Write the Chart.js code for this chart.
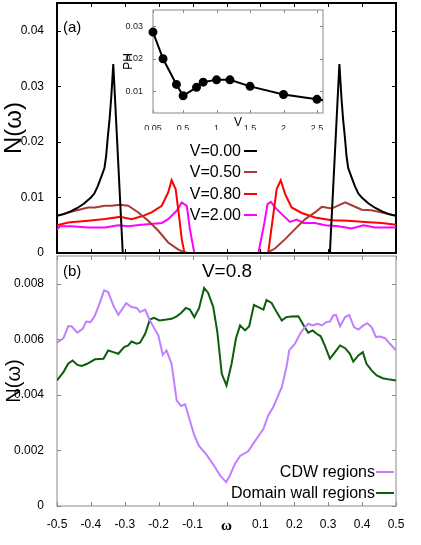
<!DOCTYPE html>
<html><head><meta charset="utf-8">
<script src="https://cdn.jsdelivr.net/npm/chart.js@4"></script>
<style>
html,body{margin:0;padding:0;background:#fff;}
#wrap{position:relative;width:421px;height:545px;overflow:hidden;font-family:"Liberation Sans",Arial,sans-serif;color:#000;}
canvas{position:absolute;}
.lbl{position:absolute;white-space:nowrap;line-height:1;}
.row{position:absolute;text-align:right;white-space:nowrap;line-height:1;}
.sw{position:absolute;height:2px;}
</style></head>
<body><div id="wrap">
<canvas id="ca" width="421" height="256" style="left:0;top:0;width:421px;height:256px"></canvas>
<canvas id="cb" width="421" height="295" style="left:0;top:250px;width:421px;height:295px"></canvas>
<canvas id="ci" width="220" height="135" style="left:121px;top:0;width:220px;height:135px"></canvas>
</div>
<script>
// ---------- Panel (a): N(omega) for several V ----------
const v000W = [-0.5,-0.48,-0.46,-0.44,-0.42,-0.40,-0.39,-0.38,-0.37,-0.36,-0.355,-0.35,-0.345,-0.34,-0.334,-0.306,
               0.305,0.333,0.339,0.344,0.349,0.354,0.359,0.369,0.379,0.389,0.399,0.419,0.439,0.459,0.479,0.5];
const v000N = [0.0067,0.0070,0.0075,0.0081,0.0089,0.0100,0.0107,0.0120,0.0136,0.0153,0.0175,0.0210,0.0240,0.0280,0.0340,0,
               0,0.0340,0.0280,0.0240,0.0210,0.0175,0.0153,0.0136,0.0120,0.0107,0.0100,0.0089,0.0081,0.0075,0.0070,0.0067];
const v050W = [-0.5,-0.447,-0.408,-0.388,-0.358,-0.339,-0.314,-0.29,-0.26,-0.231,-0.201,-0.172,-0.142,-0.127,-0.114,
               0.119,0.143,0.173,0.202,0.232,0.261,0.281,0.31,0.35,0.369,0.399,0.428,0.458,0.5];
const v050N = [0.0067,0.0076,0.0082,0.0082,0.0085,0.0085,0.0087,0.0085,0.0073,0.0058,0.0040,0.0019,0.0006,0.0002,0,
               0,0.0008,0.0025,0.0043,0.0061,0.0073,0.0083,0.0080,0.0091,0.0086,0.0078,0.0077,0.0073,0.0067];
const v080W = [-0.5,-0.467,-0.408,-0.358,-0.314,-0.28,-0.25,-0.221,-0.191,-0.172,-0.162,-0.15,-0.14,-0.132,-0.124,
               0.123,0.135,0.148,0.16,0.173,0.192,0.222,0.261,0.31,0.359,0.409,0.458,0.5];
const v080N = [0.0050,0.0055,0.0058,0.0061,0.0065,0.0061,0.0066,0.0073,0.0085,0.0109,0.0131,0.0115,0.0067,0.0025,0,
               0,0.0055,0.0115,0.0131,0.0106,0.0082,0.0072,0.0064,0.0059,0.0058,0.0056,0.0054,0.0051];
const v200W = [-0.5,-0.49,-0.457,-0.408,-0.358,-0.319,-0.29,-0.25,-0.191,-0.172,-0.147,-0.132,-0.125,-0.117,-0.108,-0.095,
               0.094,0.112,0.121,0.131,0.143,0.163,0.187,0.207,0.227,0.261,0.291,0.33,0.369,0.404,0.438,0.5];
const v200N = [0.0043,0.0048,0.0048,0.0046,0.0046,0.0050,0.0048,0.0051,0.0054,0.0061,0.0076,0.0091,0.0088,0.0085,0.0043,0,
               0,0.0055,0.0088,0.0092,0.0082,0.0070,0.0056,0.0060,0.0054,0.0054,0.0050,0.0048,0.0044,0.0050,0.0046,0.0046];
const aYTicks = [0,0.01,0.02,0.03,0.04];
const aYLabels = ['0','0.01','0.02','0.03','0.04'];
const omegaTicks = [-0.5,-0.4,-0.3,-0.2,-0.1,0,0.1,0.2,0.3,0.4,0.5];
const omegaLabels = ['-0.5','-0.4','-0.3','-0.2','-0.1','ω','0.1','0.2','0.3','0.4','0.5'];
const aSeriesNames = ['V=0.00','V=0.50','V=0.80','V=2.00'];

// ---------- Inset: PH vs V ----------
const insetV  = [0.05,0.2,0.4,0.5,0.7,0.8,1.0,1.2,1.5,2.0,2.5,3.0];
const insetPH = [0.0282,0.0200,0.0121,0.0086,0.0112,0.0128,0.0135,0.0135,0.0115,0.0090,0.0075,0.0060];
const insetXTicks = [0.05,0.5,1,1.5,2,2.5];
const insetXLabels = ['0.05','0.5','1','1.5','2','2.5'];
const insetYTicks = [0.01,0.02,0.03];
const insetYLabels = ['0.01','0.02','0.03'];

// ---------- Panel (b): V=0.8, CDW vs domain wall ----------
const cdwW = [-0.5,-0.481,-0.467,-0.457,-0.44,-0.424,-0.414,-0.401,-0.388,-0.373,-0.361,-0.349,-0.334,-0.319,-0.296,-0.28,-0.265,-0.255,-0.24,-0.226,-0.211,-0.201,-0.188,-0.177,-0.162,-0.147,-0.134,-0.122,-0.108,-0.095,-0.081,-0.059,-0.037,-0.019,-0.001,0.010,0.025,0.040,0.064,0.082,0.099,0.109,0.123,0.138,0.163,0.177,0.185,0.202,0.217,0.229,0.241,0.254,0.268,0.281,0.294,0.305,0.315,0.323,0.335,0.35,0.362,0.376,0.389,0.404,0.415,0.428,0.441,0.453,0.468,0.482,0.5];
const cdwN = [0.00588,0.00604,0.00647,0.00647,0.00624,0.00638,0.00664,0.00662,0.00686,0.00734,0.00776,0.00770,0.00722,0.00688,0.00730,0.00716,0.00713,0.00698,0.00707,0.00668,0.00635,0.00614,0.00544,0.00560,0.00512,0.00380,0.00360,0.00366,0.00308,0.00254,0.00216,0.00185,0.00146,0.00110,0.00086,0.00110,0.00152,0.00180,0.00197,0.00230,0.00260,0.00278,0.00326,0.00356,0.00428,0.00500,0.00560,0.00584,0.00620,0.00640,0.00656,0.00650,0.00656,0.00650,0.00662,0.00664,0.00686,0.00688,0.00647,0.00680,0.00688,0.00644,0.00635,0.00650,0.00658,0.00644,0.00608,0.00610,0.00604,0.00584,0.00560];
const dwW = [-0.5,-0.481,-0.467,-0.454,-0.44,-0.427,-0.411,-0.388,-0.363,-0.349,-0.334,-0.319,-0.302,-0.29,-0.28,-0.265,-0.255,-0.24,-0.226,-0.214,-0.198,-0.177,-0.162,-0.147,-0.134,-0.12,-0.108,-0.095,-0.081,-0.066,-0.054,-0.039,-0.027,-0.014,0.0,0.015,0.028,0.040,0.055,0.067,0.081,0.094,0.109,0.118,0.133,0.148,0.163,0.176,0.192,0.212,0.227,0.241,0.254,0.266,0.278,0.291,0.305,0.32,0.335,0.35,0.364,0.374,0.389,0.402,0.413,0.428,0.443,0.461,0.482,0.5];
const dwN = [0.00452,0.00482,0.00512,0.00524,0.00508,0.00504,0.00512,0.00528,0.00530,0.00560,0.00554,0.00548,0.00572,0.00578,0.00592,0.00584,0.00588,0.00620,0.00671,0.00677,0.00668,0.00671,0.00674,0.00683,0.00695,0.00713,0.00707,0.00680,0.00712,0.00785,0.00767,0.00716,0.00626,0.00476,0.00434,0.00512,0.00604,0.00650,0.00632,0.00647,0.00724,0.00716,0.00707,0.00742,0.00731,0.00698,0.00668,0.00680,0.00682,0.00683,0.00652,0.00624,0.00632,0.00620,0.00611,0.00575,0.00530,0.00554,0.00578,0.00568,0.00548,0.00520,0.00542,0.00554,0.00512,0.00488,0.00470,0.00460,0.00455,0.00452];
const bYTicks = [0,0.002,0.004,0.006,0.008];
const bYLabels = ['0','0.002','0.004','0.006','0.008'];
const bSeriesNames = ['CDW regions','Domain wall regions'];

// ---------- helpers ----------
Chart.defaults.font.family = '"Liberation Sans", Arial, sans-serif';
Chart.defaults.color = '#000';
Chart.defaults.animation = false;
const pts = (w, n) => w.map((x, i) => ({x: x, y: n[i]}));
const setTicks = (arr) => (s) => { s.ticks = arr.map(v => ({value: v})); };
const labelFrom = (vals, labels) => (v) => { const i = vals.findIndex(t => Math.abs(t - v) < 1e-9); return i >= 0 ? labels[i] : ''; };
const fitW = (w) => (s) => { s.width = w; s.paddingTop = 0; s.paddingBottom = 0; };
const fitH = (h) => (s) => { s.height = h; s.paddingLeft = 0; s.paddingRight = 0; };

const framePlugin = {
  id: 'frame',
  beforeDatasetsDraw(chart, args, o) {
    const {ctx, chartArea: a} = chart;
    const xs = chart.scales.x, ys = chart.scales.y;
    ctx.save();
    ctx.strokeStyle = o.color;
    ctx.lineWidth = 1;
    ctx.beginPath();
    xs.ticks.forEach(t => {
      const p = Math.round(xs.getPixelForValue(t.value)) + 0.5;
      ctx.moveTo(p, a.bottom); ctx.lineTo(p, a.bottom - o.len);
      ctx.moveTo(p, a.top); ctx.lineTo(p, a.top + o.len);
    });
    ys.ticks.forEach(t => {
      const p = Math.round(ys.getPixelForValue(t.value)) + 0.5;
      ctx.moveTo(a.left, p); ctx.lineTo(a.left + o.len, p);
      ctx.moveTo(a.right, p); ctx.lineTo(a.right - o.len, p);
    });
    ctx.stroke();
    ctx.lineWidth = o.width;
    ctx.strokeRect(a.left, a.top, a.right - a.left, a.bottom - a.top);
    ctx.restore();
  }
};

const lineDs = (label, data, color) => ({label, data, borderColor: color, backgroundColor: color,
  borderWidth: 2, pointRadius: 0, tension: 0, fill: false, clip: {left: 0, right: 0, top: 0, bottom: 2}});

// ---------- Chart (a) ----------
new Chart(document.getElementById('ca'), {
  type: 'line',
  data: { datasets: [
    lineDs(aSeriesNames[0], pts(v000W, v000N), '#000000'),
    lineDs(aSeriesNames[1], pts(v050W, v050N), '#a83a34'),
    lineDs(aSeriesNames[2], pts(v080W, v080N), '#ff0000'),
    lineDs(aSeriesNames[3], pts(v200W, v200N), '#ff00ff')
  ]},
  options: {
    responsive: false, devicePixelRatio: 1,
    layout: {padding: {left: 0, right: 25, top: 3, bottom: 3}},
    plugins: {legend: {display: false}, tooltip: {enabled: false},
      frame: {color: '#000', width: 2, len: 4}},
    scales: {
      x: {type: 'linear', min: -0.5, max: 0.5, afterBuildTicks: setTicks(omegaTicks),
        ticks: {display: false}, grid: {display: false}, border: {display: false},
        afterFit: fitH(0)},
      y: {type: 'linear', min: 0, max: 0.045, afterBuildTicks: setTicks(aYTicks),
        ticks: {padding: 5, font: {size: 12}, callback: labelFrom(aYTicks, aYLabels)},
        grid: {display: false}, border: {display: false},
        title: {display: true, text: 'N(ω)', font: {size: 24}, padding: {top: 0, bottom: 0}},
        afterFit: fitW(57)}
    }
  },
  plugins: [framePlugin]
});

// ---------- Inset ----------
new Chart(document.getElementById('ci'), {
  type: 'line',
  data: { datasets: [{label: 'PH', data: pts(insetV, insetPH), borderColor: '#000', backgroundColor: '#000',
    borderWidth: 2, pointRadius: 3.5, pointHoverRadius: 3.5, tension: 0,
    clip: {left: 6, right: 0, top: 6, bottom: 6}}]},
  options: {
    responsive: false, devicePixelRatio: 1,
    layout: {padding: {left: 0, right: 18, top: 10, bottom: 5}},
    plugins: {legend: {display: false}, tooltip: {enabled: false},
      frame: {color: '#8a8a8a', width: 1, len: 3}},
    scales: {
      x: {type: 'linear', min: 0.05, max: 2.59, afterBuildTicks: setTicks(insetXTicks),
        ticks: {padding: 2, font: {size: 9}, maxRotation: 0, autoSkip: false, color: '#222',
          callback: labelFrom(insetXTicks, insetXLabels)},
        grid: {display: false}, border: {display: false},
        title: {display: true, text: 'V', font: {size: 12}, padding: {top: 0, bottom: 0}},
        afterFit: fitH(17)},
      y: {type: 'linear', min: 0.0033, max: 0.035, afterBuildTicks: setTicks(insetYTicks),
        ticks: {padding: 2, font: {size: 9}, color: '#222', callback: labelFrom(insetYTicks, insetYLabels)},
        grid: {display: false}, border: {display: false},
        title: {display: true, text: 'PH', font: {size: 12}, padding: {top: 0, bottom: 0}},
        afterFit: fitW(32)}
    }
  },
  plugins: [framePlugin]
});

// ---------- Chart (b) ----------
new Chart(document.getElementById('cb'), {
  type: 'line',
  data: { datasets: [
    lineDs(bSeriesNames[0], pts(cdwW, cdwN), '#bf80ff'),
    lineDs(bSeriesNames[1], pts(dwW, dwN), '#0b5e0b')
  ]},
  options: {
    responsive: false, devicePixelRatio: 1,
    layout: {padding: {left: 0, right: 25, top: 6, bottom: 9}},
    plugins: {legend: {display: false}, tooltip: {enabled: false},
      frame: {color: '#8a8a8a', width: 1, len: 4}},
    scales: {
      x: {type: 'linear', min: -0.5, max: 0.5, afterBuildTicks: setTicks(omegaTicks),
        ticks: {padding: 3, maxRotation: 0, autoSkip: false,
          font: c => (c.tick && Math.abs(c.tick.value) < 1e-9) ? {family: '"Liberation Serif", serif', size: 15, weight: 'bold'} : {size: 12},
          callback: labelFrom(omegaTicks, omegaLabels)},
        grid: {display: false}, border: {display: false},
        afterFit: fitH(30)},
      y: {type: 'linear', min: 0, max: 0.009, afterBuildTicks: setTicks(bYTicks),
        ticks: {padding: 5, font: {size: 12}, callback: labelFrom(bYTicks, bYLabels)},
        grid: {display: false}, border: {display: false},
        title: {display: true, text: 'N(ω)', font: {size: 20}, padding: {top: 2, bottom: 0}},
        afterFit: fitW(57)}
    }
  },
  plugins: [framePlugin]
});

// ---------- HTML labels and legends ----------
const wrap = document.getElementById('wrap');
function addText(txt, x, yc, size, cls, extra) {
  const d = document.createElement('div');
  d.className = cls || 'lbl';
  d.textContent = txt;
  d.style.fontSize = size + 'px';
  d.style.left = x + 'px';
  d.style.top = (yc - size * 0.5) + 'px';
  if (extra) Object.assign(d.style, extra);
  wrap.appendChild(d);
  return d;
}
addText('(a)', 63, 26, 15);
addText('(b)', 63, 270, 15);
addText('V=0.8', 177, 270, 19, 'lbl', {width: '100px', textAlign: 'center'});
const aColors = ['#000000','#a83a34','#ff0000','#ff00ff'];
const aRowsY = [151, 172, 194, 215];
aSeriesNames.forEach((n, i) => {
  addText(n, 101, aRowsY[i], 16, 'row', {width: '140px'});
  const s = document.createElement('div'); s.className = 'sw';
  Object.assign(s.style, {left: '244px', top: (aRowsY[i] - 1) + 'px', width: '13px', background: aColors[i]});
  wrap.appendChild(s);
});
const bColors = ['#bf80ff','#0b5e0b'];
const bRowsY = [472, 493];
bSeriesNames.forEach((n, i) => {
  addText(n, 175, bRowsY[i], 16, 'row', {width: '200px'});
  const s = document.createElement('div'); s.className = 'sw';
  Object.assign(s.style, {left: '376px', top: (bRowsY[i] - 1) + 'px', width: '18px', background: bColors[i]});
  wrap.appendChild(s);
});
</script>
</body></html>
